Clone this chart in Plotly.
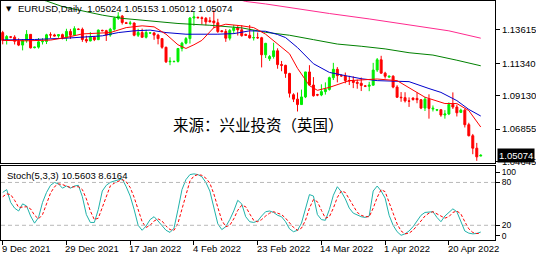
import plotly.graph_objects as go

# ---------------- data ----------------
opens = [1.1343,1.1290,1.1314,1.1312,1.1284,1.1258,1.1289,1.1331,1.1240,1.1244,
         1.1280,1.1283,1.1328,1.1327,1.1320,1.1329,1.1310,1.1351,1.1325,1.1366,
         1.1365,1.1296,1.1286,1.1312,1.1295,1.1358,1.1356,1.1326,1.1366,1.1441,
         1.1455,1.1410,1.1406,1.1408,1.1325,1.1343,1.1311,1.1340,1.1341,1.1326,
         1.1302,1.1243,1.1144,1.1145,1.1147,1.1235,1.1271,1.1302,1.1442,1.1447,
         1.1444,1.1440,1.1424,1.1422,1.1410,1.1355,1.1350,1.1305,1.1358,1.1374,
         1.1362,1.1330,1.1325,1.1307,1.1309,1.1308,1.1192,1.1165,1.1180,1.1219,
         1.1125,1.1120,1.1065,1.0920,1.0890,1.0853,1.0905,1.1075,1.0986,1.0920,
         1.0918,1.0941,1.0956,1.1036,1.1093,1.1050,1.1048,1.1017,1.1014,1.1004,
         1.0998,1.0980,1.0978,1.0985,1.1088,1.1158,1.1067,1.1040,1.1046,1.0972,
         1.0903,1.0900,1.0878,1.0897,1.0895,1.0886,1.0829,1.0890,1.0822,1.0815,
         1.0818,1.0782,1.0789,1.0854,1.0836,1.0800,1.0815,1.0716,1.0641,1.0556,
         1.05024]
highs = [1.1355,1.1326,1.1319,1.1325,1.1304,1.1299,1.1360,1.1332,1.1247,1.1306,
         1.1305,1.1335,1.1345,1.1335,1.1333,1.1336,1.1369,1.1368,1.1386,1.1372,
         1.1377,1.1322,1.1346,1.1318,1.1364,1.1363,1.1362,1.1375,1.1450,1.1482,
         1.1463,1.1416,1.1423,1.1412,1.1369,1.1370,1.1363,1.1346,1.1346,1.1335,
         1.1305,1.1247,1.1175,1.1151,1.1238,1.1280,1.1313,1.1449,1.1483,1.1452,
         1.1453,1.1449,1.1448,1.1495,1.1437,1.1360,1.1367,1.1368,1.1395,1.1393,
         1.1394,1.1336,1.1395,1.1360,1.1344,1.1314,1.1273,1.1190,1.1274,1.1236,
         1.1150,1.1124,1.1069,1.0930,1.0935,1.0955,1.1076,1.1121,1.1040,1.0926,
         1.0991,1.1004,1.1043,1.1137,1.1108,1.1058,1.1071,1.1049,1.1045,1.1023,
         1.1037,1.0986,1.1008,1.1137,1.1170,1.1185,1.1076,1.1050,1.1053,1.0985,
         1.0938,1.0937,1.0902,1.0902,1.0936,1.0891,1.0905,1.0923,1.0847,1.0822,
         1.0821,1.0815,1.0868,1.0936,1.0852,1.0825,1.0825,1.0729,1.0653,1.0592,
         1.05153]
lows = [1.1263,1.1262,1.1305,1.1262,1.1251,1.1222,1.1274,1.1235,1.1236,1.1234,
        1.1262,1.1265,1.1306,1.1318,1.1308,1.1297,1.1285,1.1300,1.1322,1.1360,
        1.1280,1.1273,1.1284,1.1285,1.1292,1.1352,1.1286,1.1315,1.1356,1.1429,
        1.1398,1.1404,1.1393,1.1318,1.1313,1.1310,1.1303,1.1336,1.1294,1.1263,
        1.1233,1.1136,1.1121,1.1141,1.1139,1.1215,1.1263,1.1268,1.1390,1.1440,
        1.1398,1.1393,1.1411,1.1373,1.1341,1.1345,1.1280,1.1290,1.1334,1.1323,
        1.1315,1.1322,1.1302,1.1289,1.1300,1.1106,1.1170,1.1150,1.1166,1.1097,
        1.1080,1.1035,1.0901,1.0870,1.0806,1.0851,1.0897,1.0985,1.0907,1.0910,
        1.0910,1.0921,1.0948,1.1020,1.1004,1.1043,1.0998,1.0986,1.0965,1.0961,
        1.0945,1.0972,1.0944,1.0982,1.1075,1.1063,1.1030,1.1035,1.0964,1.0898,
        1.0872,1.0867,1.0837,1.0880,1.0862,1.0822,1.0809,1.0757,1.0806,1.0808,
        1.0770,1.0757,1.0781,1.0823,1.0772,1.0795,1.0697,1.0636,1.0515,1.0470,
        1.05012]
closes = [1.1290,1.1316,1.1312,1.1284,1.1258,1.1289,1.1331,1.1239,1.1244,1.1280,
          1.1283,1.1328,1.1327,1.1320,1.1329,1.1310,1.1351,1.1325,1.1370,1.1365,
          1.1296,1.1286,1.1312,1.1295,1.1360,1.1356,1.1326,1.1366,1.1441,1.1455,
          1.1412,1.1406,1.1408,1.1325,1.1343,1.1311,1.1344,1.1341,1.1326,1.1302,
          1.1243,1.1144,1.1148,1.1147,1.1235,1.1271,1.1302,1.1442,1.1450,1.1444,
          1.1440,1.1416,1.1418,1.1410,1.1350,1.1350,1.1305,1.1358,1.1374,1.1362,
          1.1322,1.1325,1.1307,1.1309,1.1308,1.1192,1.1270,1.1180,1.1219,1.1125,
          1.1120,1.1065,1.0930,1.0890,1.0853,1.0905,1.1075,1.0986,1.0913,1.0918,
          1.0941,1.0956,1.1036,1.1093,1.1050,1.1048,1.1017,1.1014,1.1004,1.0998,
          1.0983,1.0978,1.0985,1.1088,1.1158,1.1067,1.1046,1.1046,1.0972,1.0903,
          1.0900,1.0878,1.0876,1.0887,1.0886,1.0829,1.0890,1.0827,1.0828,1.0818,
          1.0782,1.0789,1.0854,1.0836,1.0797,1.0815,1.0716,1.0641,1.0556,1.0497,
          1.05074]
bars = list(range(len(closes)))

ma_red_x = [0,6,12,16,20,27,31,35,38,41,44,46,48,50,53,56,60,63,66,69,72,74,77,79,82,87,91,94,99,102,106,111,114,117,120]
ma_red_y = [1.1290,1.1287,1.1292,1.1310,1.1334,1.1343,1.1377,1.1389,1.1382,1.1332,1.1260,1.1235,1.1260,1.1290,1.1377,1.1400,
            1.1389,1.1377,1.1332,1.1267,1.1199,1.1100,1.0982,1.0950,1.0970,1.1016,1.1025,1.1027,1.1016,1.0970,1.0903,1.0860,
            1.0860,1.0812,1.0700]
ma_blue_x = [0,8,16,20,25,29,33,37,41,46,50,54,58,62,66,69,71,74,78,82,86,90,94,98,102,107,110,114,117,120]
ma_blue_y = [1.1293,1.1296,1.1305,1.1310,1.1321,1.1343,1.1355,1.1360,1.1343,1.1332,1.1330,1.1332,1.1336,1.1355,1.1352,
             1.1330,1.1309,1.1241,1.1131,1.1072,1.1050,1.1029,1.1016,1.1012,1.1009,1.0962,1.0936,1.0880,1.0820,1.0775]
ma_green_x = [8,11,15,20,25,30,36,44,52,60,66,72,78,84,90,96,102,108,114,120]
ma_green_y = [1.1580,1.1558,1.1520,1.1490,1.1462,1.1440,1.1425,1.1405,1.1393,1.1375,1.1345,1.1325,1.1295,1.1265,1.1250,
              1.1232,1.1206,1.1190,1.1155,1.1117]
ma_pink_x = [55,61,66,74,82,92,102,112,120]
ma_pink_y = [1.1600,1.1555,1.1538,1.1505,1.1473,1.1436,1.1393,1.1355,1.1305]

stoch_k = [66,70,52,44,40,50,47,33,23,31,
           52,66,76,80,78,72,75,72,75,76,
           60,35,24,24,42,68,76,80,82,84,
           85,74,61,42,20,13,19,28,32,26,
           19,13,10,16,42,70,84,91,92,91,
           88,80,68,45,22,14,18,28,40,55,
           50,32,25,24,26,33,39,40,38,34,
           32,25,15,11,13,23,45,63,61,35,
           28,27,42,62,74,67,57,44,37,34,
           32,31,33,68,75,68,58,34,20,11,
           6,8,12,18,26,34,38,39,39,31,
           25,33,38,43,39,25,12,9,8,8.5,10.5603]
stoch_d = [60,64,63,55,45,45,46,43,34,29,
           35,50,65,74,78,77,75,73,74,74,
           70,57,40,28,30,45,62,75,79,82,
           84,81,73,59,41,25,17,20,26,29,
           26,19,14,13,23,43,65,82,89,91,
           90,86,79,64,45,27,18,20,29,41,
           48,46,36,27,25,28,33,37,39,37,
           35,30,24,17,13,16,27,44,56,53,
           41,30,32,44,59,68,66,56,46,38,
           34,32,32,44,59,70,67,53,37,22,
           12,8,9,13,19,26,33,37,39,36,
           32,30,32,38,40,36,25,15,10,8.5,8.6164]

price_ticks = [1.13615, 1.11340, 1.09130, 1.06855, 1.04645]
stoch_tick_vals = [94.5, 80, 20, 5.5]
stoch_tick_text = ["100", "80", "20", "0"]
date_tick_bars = [0, 16, 32, 48, 64, 80, 96, 112]
date_tick_text = ["9 Dec 2021", "29 Dec 2021", "17 Jan 2022", "4 Feb 2022",
                  "23 Feb 2022", "14 Mar 2022", "1 Apr 2022", "20 Apr 2022"]
last_price = 1.05074

# ---------------- figure ----------------
FONT = "Liberation Sans"
fig = go.Figure()

fig.add_trace(go.Candlestick(
    x=bars, open=opens, high=highs, low=lows, close=closes,
    increasing=dict(line=dict(color="#00ee00", width=1), fillcolor="#00ee00"),
    decreasing=dict(line=dict(color="#ff0000", width=1), fillcolor="#ff0000"),
    whiskerwidth=0, xaxis="x", yaxis="y", showlegend=False, hoverinfo="skip"))

for xs, ys, col in [(ma_pink_x, ma_pink_y, "#ff2a8e"), (ma_green_x, ma_green_y, "#008000"),
                    (ma_blue_x, ma_blue_y, "#0000cc"), (ma_red_x, ma_red_y, "#ff0000")]:
    fig.add_trace(go.Scatter(x=xs, y=ys, mode="lines", line=dict(color=col, width=1),
                             xaxis="x", yaxis="y", showlegend=False, hoverinfo="skip"))

fig.add_trace(go.Scatter(x=bars, y=stoch_k, mode="lines", line=dict(color="#20b2aa", width=1),
                         xaxis="x2", yaxis="y2", showlegend=False, hoverinfo="skip"))
fig.add_trace(go.Scatter(x=bars, y=stoch_d, mode="lines", line=dict(color="#ff0000", width=1, dash="3px,2px"),
                         xaxis="x2", yaxis="y2", showlegend=False, hoverinfo="skip"))

xr = [-0.425, 123.575]
fig.update_layout(
    width=536, height=256,
    margin=dict(l=0, r=40, t=0, b=16),
    paper_bgcolor="white", plot_bgcolor="white",
    font=dict(family=FONT, size=9.5, color="black"),
    xaxis=dict(domain=[0, 1], range=xr, anchor="y", showticklabels=False, ticks="",
               showgrid=False, zeroline=False, showline=True, mirror=True, linecolor="black",
               linewidth=1, rangeslider=dict(visible=False), fixedrange=True),
    yaxis=dict(domain=[1 - 163 / 240, 1], range=[1.0453, 1.15581], side="right", anchor="x",
               tickvals=price_ticks, ticktext=[f"{v:.5f}" for v in price_ticks],
               ticks="outside", ticklen=4, tickcolor="black", showgrid=False, zeroline=False,
               showline=True, mirror=True, linecolor="black", linewidth=1,
               tickfont=dict(family=FONT, size=9.5, color="black")),
    xaxis2=dict(domain=[0, 1], range=xr, anchor="y2", tickvals=date_tick_bars,
                showticklabels=False, ticks="outside", ticklen=4, tickcolor="black",
                showgrid=False, zeroline=False, showline=True, mirror=True, linecolor="black",
                linewidth=1),
    yaxis2=dict(domain=[0, 74 / 240], range=[-0.6, 102.6], side="right", anchor="x2",
                tickvals=stoch_tick_vals, ticktext=stoch_tick_text, ticks="outside", ticklen=4,
                tickcolor="black", showgrid=False, zeroline=False, showline=True, mirror=True,
                linecolor="black", linewidth=1, tickfont=dict(family=FONT, size=8.5, color="black")),
)

for lvl in (80, 20):
    fig.add_shape(type="line", xref="x2 domain", yref="y2", x0=0, x1=1, y0=lvl, y1=lvl,
                  line=dict(color="#b8b8b8", width=1, dash="4px,3px"))

anns = []
for b, t in zip(date_tick_bars, date_tick_text):
    anns.append(dict(x=b, xref="x2", y=-9 / 240, yref="paper", text=t, showarrow=False,
                     xanchor="left", yanchor="middle", xshift=-3,
                     font=dict(family=FONT, size=9.5, color="black")))
anns.append(dict(x=0, xref="paper", y=1 - 8 / 240, yref="paper", text="▼", showarrow=False,
                 xanchor="left", yanchor="middle", xshift=3, font=dict(family="DejaVu Sans", size=7, color="black")))
anns.append(dict(x=0, xref="paper", y=1 - 8 / 240, yref="paper",
                 text="EURUSD,Daily  1.05024 1.05153 1.05012 1.05074", showarrow=False,
                 xanchor="left", yanchor="middle", xshift=15, font=dict(family=FONT, size=9.5, color="black")))
anns.append(dict(x=0, xref="paper", y=1 - 175 / 240, yref="paper",
                 text="Stoch(5,3,3) 10.5603 8.6164", showarrow=False,
                 xanchor="left", yanchor="middle", xshift=4, font=dict(family=FONT, size=9.5, color="black")))
anns.append(dict(x=259 / 496, xref="paper", y=1 - 124 / 240, yref="paper",
                 text="来源：兴业投资（英国）", showarrow=False, xanchor="center", yanchor="middle",
                 font=dict(family="Noto Sans CJK SC", size=15.5, color="black")))
anns.append(dict(x=1, xref="paper", y=last_price, yref="y", text=f"{last_price:.5f}",
                 showarrow=False, xanchor="left", yanchor="middle", xshift=2,
                 bgcolor="black", borderpad=1, font=dict(family=FONT, size=9.5, color="white")))
fig.update_layout(annotations=anns)

fig.write_html("out.html")
